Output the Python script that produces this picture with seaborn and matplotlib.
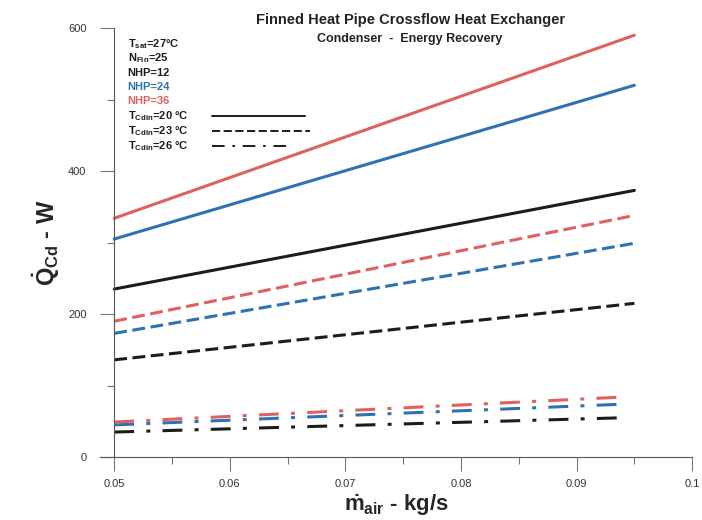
import matplotlib
matplotlib.use('Agg')
import matplotlib.pyplot as plt
import numpy as np
import pandas as pd
import seaborn as sns

# values (end points of each straight line)
m_air = [0.05, 0.095]
m_air_dd = [0.05, 0.094]
q_nhp12_t20 = [235, 373]
q_nhp24_t20 = [305, 520]
q_nhp36_t20 = [334, 590]
q_nhp12_t23 = [136, 215]
q_nhp24_t23 = [173, 299]
q_nhp36_t23 = [190, 338]
q_nhp12_t26 = [35, 55]
q_nhp24_t26 = [45, 74]
q_nhp36_t26 = [49, 84]

x_ticks = [0.05, 0.06, 0.07, 0.08, 0.09, 0.1]
x_labels = ['0.05', '0.06', '0.07', '0.08', '0.09', '0.1']
y_ticks = [0, 200, 400, 600]

rows = []
for nhp, t, xs, qs in [(12, 20, m_air, q_nhp12_t20), (24, 20, m_air, q_nhp24_t20), (36, 20, m_air, q_nhp36_t20),
                       (12, 23, m_air, q_nhp12_t23), (24, 23, m_air, q_nhp24_t23), (36, 23, m_air, q_nhp36_t23),
                       (12, 26, m_air_dd, q_nhp12_t26), (24, 26, m_air_dd, q_nhp24_t26), (36, 26, m_air_dd, q_nhp36_t26)]:
    for x, q in zip(xs, qs):
        rows.append({'m': x, 'Q': q, 'NHP': nhp, 'T': t})
df = pd.DataFrame(rows)

sns.set_theme(style='ticks')
plt.rcParams['font.family'] = ['Liberation Sans', 'DejaVu Sans']
plt.rcParams['mathtext.fontset'] = 'custom'
plt.rcParams['mathtext.rm'] = 'Liberation Sans'
plt.rcParams['mathtext.bf'] = 'Liberation Sans:bold'
plt.rcParams['mathtext.it'] = 'Liberation Sans:italic'

colors = {12: '#1c1c1c', 24: '#2f72b4', 36: '#e0605e'}
dashes = {20: '', 23: (4.2, 1.8), 26: (6.5, 4.0, 1.3, 4.0)}

fig = plt.figure(figsize=(7.02, 5.20), dpi=100)
ax = fig.add_axes([0.143, 0.121, 0.843, 0.825])

sns.lineplot(data=df, x='m', y='Q', hue='NHP', style='T', palette=colors, dashes=dashes,
             lw=2.2, legend=False, ax=ax)

ax.set_xlim(0.0488, 0.1)
ax.set_ylim(0, 600)
ax.spines['left'].set_position(('data', 0.05))
ax.spines['left'].set_bounds(0, 600)
ax.spines['top'].set_visible(False)
ax.spines['right'].set_visible(False)
for s in ['left', 'bottom']:
    ax.spines[s].set_color('#555555')
    ax.spines[s].set_linewidth(0.8)

ax.set_xticks(x_ticks)
ax.set_xticklabels(x_labels)
ax.set_xticks([0.055, 0.065, 0.075, 0.085, 0.095], minor=True)
ax.set_yticks(y_ticks)
ax.set_yticks([100, 300, 500], minor=True)
ax.tick_params(axis='both', which='major', length=10, width=0.8, color='#777777',
               labelsize=8, labelcolor='#333333', pad=6)
ax.tick_params(axis='both', which='minor', length=5, width=0.8, color='#777777')
ax.tick_params(axis='y', which='major', pad=10)

ax.set_xlabel(r'$\mathbf{\dot{m}_{air}}$ - kg/s', fontsize=16, fontweight='bold', labelpad=2)
ax.set_ylabel(r'$\mathbf{\dot{Q}_{Cd}}$ - W', fontsize=17, fontweight='bold', labelpad=4)

fig.text(0.585, 0.962, 'Finned Heat Pipe Crossflow Heat Exchanger', ha='center', va='center',
         fontsize=10.5, fontweight='bold', color='#222222')
fig.text(0.583, 0.925, 'Condenser  -  Energy Recovery', ha='center', va='center',
         fontsize=9, fontweight='bold', color='#222222')

# annotation block in the upper-left corner
tx = 0.046
ann = [
    (r'T$_{\mathbf{sat}}$=27°C', '#1c1c1c'),
    (r'N$_{\mathbf{Fin}}$=25', '#1c1c1c'),
    ('NHP=12', '#1c1c1c'),
    ('NHP=24', colors[24]),
    ('NHP=36', colors[36]),
    (r'T$_{\mathbf{Cdin}}$=20 °C', '#1c1c1c'),
    (r'T$_{\mathbf{Cdin}}$=23 °C', '#1c1c1c'),
    (r'T$_{\mathbf{Cdin}}$=26 °C', '#1c1c1c'),
]
ys = [0.963, 0.930, 0.895, 0.862, 0.829, 0.795, 0.760, 0.725]
for (txt, c), y in zip(ann, ys):
    ax.text(tx, y, txt, transform=ax.transAxes, fontsize=8, fontweight='bold', color=c,
            ha='left', va='center')

for y, d, x1 in zip(ys[5:], [20, 23, 26], [0.346, 0.355, 0.32]):
    ln, = ax.plot([0.188, x1], [y, y], transform=ax.transAxes, color='#1c1c1c', lw=1.4)
    if dashes[d]:
        ln.set_dashes(dashes[d])

fig.savefig('out.png', dpi=100)
